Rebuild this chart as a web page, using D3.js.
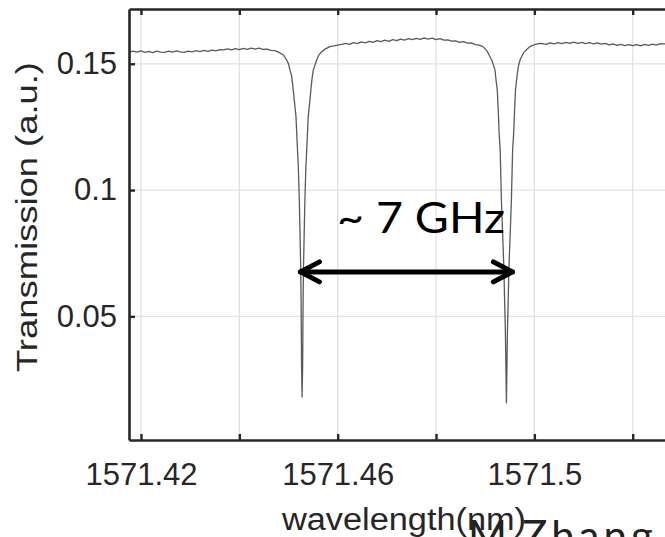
<!DOCTYPE html>
<html><head><meta charset="utf-8">
<script src="https://cdn.jsdelivr.net/npm/d3@7/dist/d3.min.js"></script>
<style>html,body{margin:0;padding:0;background:#fff;} svg{display:block;}</style>
</head><body>
<svg id="chart" width="665" height="537"></svg>
<script>
// ---- data ----
const wavelength = [
  1571.4176,1571.4184,1571.4192,1571.4200,1571.4208,1571.4216,1571.4224,1571.4232,1571.4240,1571.4248,
  1571.4256,1571.4264,1571.4272,1571.4280,1571.4288,1571.4296,1571.4304,1571.4312,1571.4320,1571.4328,
  1571.4336,1571.4344,1571.4352,1571.4360,1571.4368,1571.4376,1571.4384,1571.4392,1571.4400,1571.4408,
  1571.4416,1571.4424,1571.4432,1571.4440,1571.4448,1571.4456,1571.4464,1571.4472,
  1571.4480,1571.44894,1571.44963,1571.45000,1571.45030,1571.45065,1571.45097,1571.45118,1571.45152,1571.45167,
  1571.45183,1571.45199,1571.45220,1571.45234,1571.45248,1571.45256,1571.45266,1571.45276,
  1571.45287,1571.45297,1571.45305,1571.45319,1571.45333,1571.45354,1571.45370,1571.45386,1571.45401,1571.45435,
  1571.45455,1571.45478,1571.45504,1571.45573,1571.45610,1571.45675,1571.45742,1571.45844,1571.45946,
  1571.4608,1571.4616,1571.4624,1571.4632,1571.4640,1571.4648,1571.4656,1571.4664,1571.4672,1571.4680,
  1571.4688,1571.4696,1571.4704,1571.4712,1571.4720,1571.4728,1571.4736,1571.4744,1571.4752,1571.4760,
  1571.4768,1571.4776,1571.4784,1571.4792,1571.4800,1571.4808,1571.4816,1571.4824,1571.4832,1571.4840,
  1571.4848,1571.4856,1571.4864,1571.4872,1571.4880,1571.4888,1571.4896,1571.4904,
  1571.49088,1571.49133,1571.49159,1571.49200,1571.49220,1571.49246,1571.49271,1571.49283,1571.49305,1571.49330,
  1571.49379,1571.49411,1571.49432,1571.49452,1571.49484,1571.49533,1571.49558,1571.49580,1571.49592,1571.49617,
  1571.49647,1571.49674,1571.49708,1571.49775,1571.49844,1571.49912,1571.49979,1571.50044,1571.50115,
  1571.5016,1571.5024,1571.5032,1571.5040,1571.5048,1571.5056,1571.5064,1571.5072,1571.5080,1571.5088,
  1571.5096,1571.5104,1571.5112,1571.5120,1571.5128,1571.5136,1571.5144,1571.5152,1571.5160,1571.5168,
  1571.5176,1571.5184,1571.5192,1571.5200,1571.5208,1571.5216,1571.5224,1571.5232,1571.5240,1571.5248,
  1571.5256,1571.5264,1571.5272,1571.5280,1571.5288,1571.5296
];
const transmission = [
  0.1546,0.1550,0.1546,0.1551,0.1545,0.1549,0.1544,0.1550,0.1546,0.1545,
  0.1550,0.1546,0.1551,0.1547,0.1545,0.1550,0.1547,0.1552,0.1548,0.1553,
  0.1549,0.1554,0.1551,0.1556,0.1555,0.1559,0.1555,0.1560,0.1556,0.1561,
  0.1557,0.1562,0.1558,0.1562,0.1557,0.1558,0.1553,0.1552,
  0.1546,0.1535,0.1515,0.1500,0.1475,0.1450,0.1396,0.1355,0.1291,0.1226,
  0.1159,0.1092,0.0961,0.0830,0.0696,0.0565,0.0300,0.0181,
  0.0300,0.0565,0.0696,0.0830,0.0961,0.1092,0.1159,0.1226,0.1291,0.1355,
  0.1396,0.1440,0.1475,0.1515,0.1532,0.1548,0.1558,0.1568,0.1572,
  0.1577,0.1581,0.1577,0.1584,0.1580,0.1587,0.1583,0.1589,0.1585,0.1592,
  0.1588,0.1594,0.1589,0.1596,0.1592,0.1598,0.1594,0.1600,0.1596,0.1601,
  0.1597,0.1603,0.1598,0.1602,0.1596,0.1600,0.1594,0.1595,0.1590,0.1591,
  0.1585,0.1588,0.1582,0.1583,0.1576,0.1574,0.1567,0.1550,
  0.1532,0.1515,0.1500,0.1475,0.1436,0.1397,0.1291,0.1226,0.1159,0.0961,
  0.0696,0.0435,0.0158,0.0435,0.0696,0.0961,0.1159,0.1226,0.1291,0.1397,
  0.1450,0.1489,0.1515,0.1542,0.1557,0.1568,0.1574,0.1578,0.1581,
  0.1580,0.1577,0.1583,0.1579,0.1584,0.1580,0.1585,0.1581,0.1586,0.1581,
  0.1585,0.1580,0.1584,0.1579,0.1583,0.1578,0.1581,0.1575,0.1579,0.1573,
  0.1577,0.1572,0.1576,0.1572,0.1576,0.1571,0.1577,0.1573,0.1578,0.1574,
  0.1580,0.1579,0.1577,0.1582,0.1578,0.1581
];
const xTicks = [1571.42, 1571.44, 1571.46, 1571.48, 1571.50, 1571.52];
const xTickLabels = ["1571.42", "", "1571.46", "", "1571.5", ""];
const yTicks = [0.05, 0.1, 0.15];
const yTickLabels = ["0.05", "0.1", "0.15"];
const xDomain = [1571.41756, 1571.52962];
const yDomain = [0.00105, 0.17169];
const arrowEnds = [1571.45222, 1571.49574];
const arrowLevel = 0.0676;
const annotation = "~ 7 GHz";
const xLabel = "wavelength(nm)";
const yLabel = "Transmission (a.u.)";
const creditParts = ["M.", "Zhang, et al."];

// ---- layout ----
const M = {left: 129, top: 9, right: 680, bottom: 440};
const svg = d3.select("#chart");
svg.append("rect").attr("width", 665).attr("height", 537).attr("fill", "#fff");

const x = d3.scaleLinear().domain(xDomain).range([M.left, M.right]);
const y = d3.scaleLinear().domain(yDomain).range([M.bottom, M.top]);

svg.append("defs").append("clipPath").attr("id", "clip")
  .append("rect").attr("x", M.left).attr("y", M.top)
  .attr("width", M.right - M.left).attr("height", M.bottom - M.top);

// grid
const grid = svg.append("g").attr("stroke", "#e1e1e1").attr("stroke-width", 1.3);
grid.selectAll("line.vx").data(xTicks).join("line")
  .attr("x1", d => x(d)).attr("x2", d => x(d)).attr("y1", M.top).attr("y2", M.bottom);
grid.selectAll("line.hy").data(yTicks).join("line")
  .attr("y1", d => y(d)).attr("y2", d => y(d)).attr("x1", M.left).attr("x2", M.right);

// data line
const pts = wavelength.map((w, i) => [w, transmission[i]]);
svg.append("path").datum(pts)
  .attr("clip-path", "url(#clip)")
  .attr("fill", "none").attr("stroke", "#5a5a5a").attr("stroke-width", 1.3)
  .attr("stroke-linejoin", "round")
  .attr("d", d3.line().x(d => x(d[0])).y(d => y(d[1])));

const tickFont = "'Liberation Sans', Arial, Helvetica, sans-serif";
const axisColor = "#262626";

function styleAxis(g) {
  g.select(".domain").attr("stroke", axisColor).attr("stroke-width", 2.6);
  g.selectAll(".tick line").attr("stroke", axisColor).attr("stroke-width", 2.4);
  g.selectAll(".tick text").attr("fill", axisColor)
    .style("font-family", tickFont).style("font-size", "31px");
}

// bottom axis
svg.append("g").attr("transform", `translate(0,${M.bottom})`)
  .call(d3.axisBottom(x).tickValues(xTicks).tickFormat((d, i) => xTickLabels[i])
    .tickSizeInner(-6).tickSizeOuter(0).tickPadding(23))
  .call(styleAxis);

// top axis (ticks only)
svg.append("g").attr("transform", `translate(0,${M.top})`)
  .call(d3.axisTop(x).tickValues(xTicks).tickFormat(() => "")
    .tickSizeInner(-6).tickSizeOuter(0))
  .call(styleAxis);

// left axis
svg.append("g").attr("transform", `translate(${M.left},0)`)
  .call(d3.axisLeft(y).tickValues(yTicks).tickFormat((d, i) => yTickLabels[i])
    .tickSizeInner(-6).tickSizeOuter(0).tickPadding(12))
  .call(styleAxis);

// axis titles
svg.append("text")
  .attr("x", 404).attr("y", 530)
  .attr("text-anchor", "middle")
  .attr("textLength", 244).attr("lengthAdjust", "spacingAndGlyphs")
  .attr("fill", axisColor)
  .style("font-family", tickFont).style("font-size", "31px")
  .text(xLabel);

svg.append("text")
  .attr("transform", "translate(37,217) rotate(-90)")
  .attr("text-anchor", "middle")
  .attr("textLength", 310).attr("lengthAdjust", "spacingAndGlyphs")
  .attr("fill", axisColor)
  .style("font-family", tickFont).style("font-size", "30px")
  .text(yLabel);

// annotation
const ay = y(arrowLevel), ax0 = x(arrowEnds[0]), ax1 = x(arrowEnds[1]);
const arrow = svg.append("g").attr("stroke", "#000").attr("stroke-width", 5)
  .attr("stroke-linecap", "round").attr("stroke-linejoin", "round").attr("fill", "none");
arrow.append("line").attr("x1", ax0 + 1).attr("x2", ax1 - 1).attr("y1", ay).attr("y2", ay);
arrow.append("polyline").attr("points", `${ax0 + 20},${ay - 10} ${ax0 + 1},${ay} ${ax0 + 20},${ay + 10}`);
arrow.append("polyline").attr("points", `${ax1 - 20},${ay - 10} ${ax1 - 1},${ay} ${ax1 - 20},${ay + 10}`);

svg.append("text")
  .attr("x", 337).attr("y", 233)
  .attr("textLength", 168).attr("lengthAdjust", "spacingAndGlyphs")
  .attr("fill", "#000")
  .style("font-family", "Lato, 'Open Sans', sans-serif").style("font-size", "42px")
  .text(annotation);

// partially visible credit at the bottom edge
const credit = svg.append("text")
  .attr("y", 551)
  .attr("fill", "#222")
  .style("font-family", "Lato, 'Open Sans', sans-serif").style("font-size", "42px");
credit.append("tspan").attr("x", 468).text(creditParts[0]);
credit.append("tspan").attr("x", 522).style("letter-spacing", "4px").text(creditParts[1]);
</script>
</body></html>
